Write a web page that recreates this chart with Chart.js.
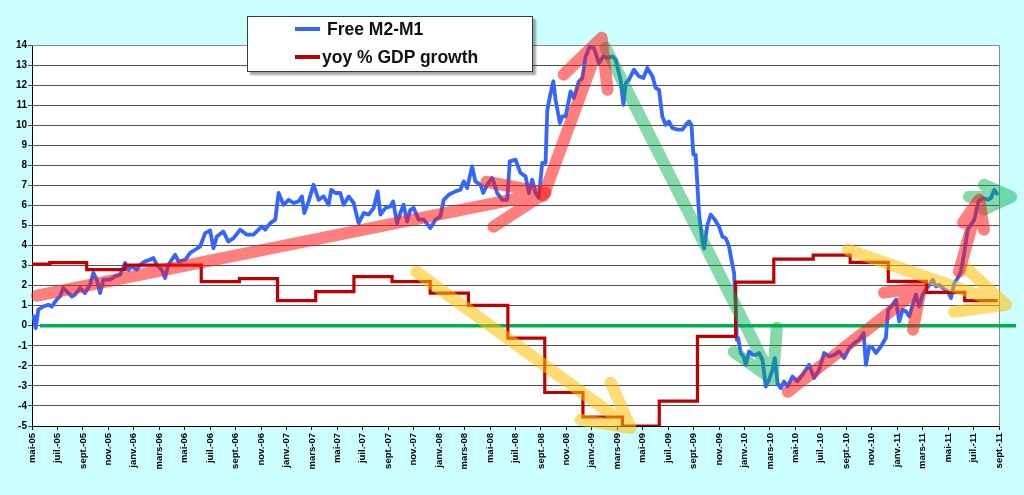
<!DOCTYPE html>
<html><head><meta charset="utf-8">
<script src="https://cdn.jsdelivr.net/npm/chart.js@4.4.0/dist/chart.umd.min.js"></script>
<style>
html,body{margin:0;padding:0;background:#ccffff;}
#wrap{position:relative;width:1024px;height:495px;background:#ccffff;overflow:hidden}
#legend{position:absolute;left:247px;top:16px;width:284px;height:54px;background:#fff;border:1px solid #3a3a3a;box-shadow:3px 3px 2px rgba(0,0,0,0.35);font-family:'Liberation Sans',Arial,sans-serif;font-weight:bold;font-size:17.5px;color:#111}
.sw{position:absolute;width:25px;height:4px}
.tx{position:absolute;white-space:nowrap;line-height:20px}
</style></head>
<body>
<div id="wrap">
<canvas id="c" width="1024" height="495"></canvas>
<div id="legend">
  <div class="sw" style="left:47px;top:10px;background:#3366ff"></div>
  <div class="tx" style="left:79px;top:2px">Free M2-M1</div>
  <div class="sw" style="left:47px;top:38px;background:#c00000"></div>
  <div class="tx" style="left:74px;top:30px">yoy % GDP growth</div>
</div>
</div>
<script>
// x axis unit: months since mai-05
const tickLabels = ['mai-05','juil.-05','sept.-05','nov.-05','janv.-06','mars-06','mai-06','juil.-06','sept.-06','nov.-06',
'janv.-07','mars-07','mai-07','juil.-07','sept.-07','nov.-07','janv.-08','mars-08','mai-08','juil.-08',
'sept.-08','nov.-08','janv.-09','mars-09','mai-09','juil.-09','sept.-09','nov.-09','janv.-10','mars-10',
'mai-10','juil.-10','sept.-10','nov.-10','janv.-11','mars-11','mai-11','juil.-11','sept.-11'];

const m2Months = [
0.10,0.29,0.50,0.89,1.28,1.55,1.94,2.20,2.46,2.73,
3.12,3.38,3.78,4.17,4.56,4.82,5.09,5.35,5.61,6.14,
6.53,6.92,7.32,7.58,7.84,8.24,8.50,8.89,9.28,9.54,
9.81,10.20,10.46,10.72,11.25,11.51,12.04,12.43,12.82,13.22,
13.61,14.00,14.26,14.53,15.03,15.44,15.84,16.36,16.89,17.41,
18.07,18.33,18.73,19.12,19.38,19.77,20.17,20.56,20.95,21.22,
21.40,21.74,22.13,22.53,22.92,23.31,23.52,23.84,24.23,24.49,
24.89,25.28,25.67,26.07,26.46,26.85,27.17,27.38,27.77,28.17,
28.38,28.69,28.95,29.21,29.48,29.74,30.00,30.39,30.79,31.31,
31.71,32.10,32.36,32.75,33.28,33.67,33.93,34.20,34.59,34.85,
35.25,35.46,35.78,36.17,36.56,36.96,37.35,37.55,38.00,38.39,
38.79,39.05,39.32,39.57,39.83,40.10,40.36,40.50,40.76,40.97,
41.15,41.49,41.68,41.94,42.33,42.59,42.98,43.25,43.51,43.85,
44.16,44.56,44.90,45.22,45.61,45.87,46.26,46.48,46.66,46.92,
47.31,47.70,48.05,48.36,48.76,49.02,49.28,49.54,49.80,50.06,
50.33,50.72,51.12,51.38,51.64,51.83,51.98,52.16,52.42,52.69,
52.83,53.07,53.34,53.66,53.99,54.26,54.52,54.78,54.92,55.18,
55.31,55.39,55.49,55.57,55.70,55.92,56.10,56.36,56.63,56.89,
57.15,57.41,57.67,57.93,58.20,58.38,58.59,58.85,59.11,59.38,
59.77,60.16,60.56,61.08,61.47,61.87,62.26,62.65,63.05,63.44,
63.83,64.23,64.62,65.01,65.36,65.54,65.80,66.07,66.33,66.72,
67.11,67.29,67.64,67.90,68.16,68.42,68.69,68.95,69.21,69.47,
69.73,70.00,70.26,70.52,70.79,71.05,71.31,71.58,71.97,72.23,
72.49,72.76,73.01,73.27,73.54,73.80,74.06,74.38,74.72,75.12,
75.37,75.63,75.90];

const m2Values = [
0.55,-0.12,0.80,0.96,1.05,0.95,1.30,1.46,1.88,1.71,
1.46,1.55,1.88,1.63,2.04,2.63,2.30,1.63,2.30,2.30,
2.46,2.54,3.13,2.79,2.96,2.79,3.04,3.21,3.29,3.38,
3.04,2.79,2.38,3.04,3.54,3.21,3.29,3.63,3.79,3.96,
4.62,4.75,3.87,4.45,4.70,4.20,4.37,4.79,4.54,4.54,
4.95,4.79,5.12,5.29,6.62,6.03,6.28,6.12,6.20,6.45,
5.62,6.20,7.03,6.28,6.45,6.03,6.78,6.62,6.62,6.03,
6.45,6.12,5.12,5.62,5.54,5.87,6.70,5.54,5.87,5.95,
6.20,5.12,5.62,6.03,5.20,5.79,5.87,5.29,5.29,4.87,
5.29,5.45,6.28,6.53,6.70,6.78,7.20,6.87,7.95,7.20,
7.03,6.62,7.03,7.37,6.62,6.28,6.28,8.20,8.28,7.62,
7.45,6.62,7.28,6.62,6.37,8.12,8.12,10.77,11.60,12.19,
11.27,10.11,10.44,10.44,11.69,11.36,12.19,12.35,13.43,13.93,
13.85,13.10,13.43,13.35,13.43,13.27,12.27,11.02,12.10,12.27,
12.77,12.44,12.35,12.85,12.44,11.85,11.77,10.44,10.02,10.19,
9.86,9.78,9.78,10.02,10.19,10.02,8.53,8.53,5.62,4.20,
3.85,5.00,5.54,5.30,4.95,4.45,4.37,3.96,3.46,2.63,
0.96,-0.70,-0.60,-0.86,-1.36,-1.53,-1.95,-1.28,-1.45,-1.45,
-1.36,-1.70,-3.03,-2.69,-2.19,-1.61,-2.86,-3.11,-2.78,-3.03,
-2.53,-2.78,-2.44,-1.95,-2.61,-2.19,-1.36,-1.53,-1.45,-1.28,
-1.61,-1.11,-0.86,-0.70,-0.36,-1.95,-1.03,-1.11,-1.36,-1.03,
-0.61,0.80,1.05,1.30,0.21,0.80,0.71,0.46,1.05,1.55,
0.96,1.55,1.80,2.04,2.29,1.96,2.04,1.88,1.71,1.38,
2.13,2.38,2.71,3.63,4.80,5.04,5.29,6.20,6.37,6.28,
6.37,6.78,6.53];

// quarterly GDP: month at which each new value starts
const gdpMonths = [0,1.4,4.3,7.3,13.3,16.3,19.3,22.3,25.3,28.3,31.3,34.3,37.4,40.3,43.3,46.4,49.3,52.3,55.3,58.3,61.4,64.3,67.3,70.3,73.3,75.9];
const gdpValues = [3.07,3.15,2.8,3.02,2.2,2.35,1.25,1.7,2.45,2.2,1.63,1.02,-0.62,-3.33,-4.55,-5.0,-3.76,-0.53,2.17,3.32,3.52,3.16,2.21,1.66,1.25,1.25];

// zero reference line (drawn shape)
const zeroMonths = [0.63, 77.34];
const zeroValues = [0, 0];

// annotation arrows: [month, value] : start, tip, barb, tip, barb
const arrowRed1 = [[0.39,1.50],[40.36,6.63],[35.72,7.18],[40.36,6.63],[36.27,4.94]];
const arrowRed2 = [[40.20,6.48],[44.77,14.36],[41.78,12.52],[44.77,14.36],[45.24,11.77]];
const arrowGreen1 = [[45.08,13.87],[58.22,-2.69],[55.15,-1.30],[58.22,-2.69],[58.54,-0.10]];
const arrowRed3 = [[59.40,-3.29],[69.87,1.90],[66.96,1.65],[69.87,1.90],[69.24,-0.20]];
const arrowRed4 = [[72.86,2.69],[74.43,6.28],[73.17,5.14],[74.43,6.28],[74.82,4.79]];
const arrowGreen2 = [[73.64,6.43],[76.95,6.43],[74.82,7.03],[76.95,6.43],[74.82,5.79]];
const arrowYellow1 = [[30.21,2.69],[47.05,-5.09],[43.12,-4.69],[47.05,-5.09],[45.48,-2.84]];
const arrowYellow2 = [[64.12,3.79],[76.55,1.05],[72.46,0.70],[76.55,1.05],[73.56,2.79]];

const xy = (ms, vs) => ms.map((m, i) => ({x: m, y: vs[i]}));
const pairs = p => p.map(q => ({x: q[0], y: q[1]}));

const RED_A = 'rgba(255,20,20,0.55)', GREEN_A = 'rgba(0,176,80,0.48)', YEL_A = 'rgba(255,190,0,0.55)';
function arrowDs(p, col) {
  return {data: pairs(p), borderColor: col, borderWidth: 12, borderCapStyle: 'round', borderJoinStyle: 'round',
    pointRadius: 0, fill: false, clip: false, order: 0, tension: 0};
}

const frame = {
  id: 'frame',
  beforeDraw(chart) {
    const {ctx, chartArea: a} = chart;
    ctx.save(); ctx.fillStyle = '#ffffff';
    ctx.fillRect(a.left, a.top, a.right - a.left, a.bottom - a.top); ctx.restore();
  },
  beforeDatasetsDraw(chart) {
    const {ctx, chartArea: a} = chart;
    ctx.save(); ctx.strokeStyle = '#8a8a8a'; ctx.lineWidth = 1;
    ctx.beginPath(); ctx.moveTo(a.left, a.top + 0.5); ctx.lineTo(a.right + 0.5, a.top + 0.5);
    ctx.lineTo(a.right + 0.5, a.bottom); ctx.stroke(); ctx.restore();
  }
};

new Chart(document.getElementById('c'), {
  type: 'line',
  data: {
    datasets: [
      arrowDs(arrowRed1, RED_A), arrowDs(arrowRed2, RED_A), arrowDs(arrowGreen1, GREEN_A),
      arrowDs(arrowRed3, RED_A), arrowDs(arrowRed4, RED_A), arrowDs(arrowGreen2, GREEN_A),
      arrowDs(arrowYellow1, YEL_A), arrowDs(arrowYellow2, YEL_A),
      {label: 'yoy % GDP growth', data: xy(gdpMonths, gdpValues), stepped: 'before', borderColor: '#c00000',
        borderWidth: 3.2, pointRadius: 0, fill: false, order: 1},
      {label: 'Free M2-M1', data: xy(m2Months, m2Values), borderColor: '#3366ff', borderWidth: 3.8,
        borderJoinStyle: 'round', pointRadius: 0, fill: false, order: 2, tension: 0},
      {data: xy(zeroMonths, zeroValues), borderColor: '#00b050', borderWidth: 3.5, pointRadius: 0,
        fill: false, clip: false, order: 3}
    ]
  },
  options: {
    responsive: false, animation: false, devicePixelRatio: 1,
    layout: {padding: {left: 0, top: 45, right: 25, bottom: 0}},
    plugins: {legend: {display: false}, tooltip: {enabled: false}},
    scales: {
      x: {
        type: 'linear', min: 0, max: 76,
        afterFit(s) { s.height = 69; },
        ticks: {stepSize: 2, autoSkip: false, minRotation: 90, maxRotation: 90, padding: 3, color: '#000',
          font: {family: "'Liberation Sans Narrow', 'Liberation Sans', Arial", size: 9.5, weight: 'bold'},
          callback: v => tickLabels[Math.round(v / 2)]},
        grid: {drawOnChartArea: false, drawTicks: true, tickLength: 4, color: '#000'},
        border: {display: true, color: '#000', width: 1}
      },
      y: {
        min: -5, max: 14,
        afterFit(s) { s.width = 32; },
        ticks: {stepSize: 1, padding: 1, color: '#000',
          font: {family: "'Liberation Sans', Arial", size: 10, weight: 'bold'}},
        grid: {color: '#505050', lineWidth: 1, drawTicks: true, tickLength: 4},
        border: {display: true, color: '#000', width: 1}
      }
    }
  },
  plugins: [frame]
});
</script>
</body></html>
